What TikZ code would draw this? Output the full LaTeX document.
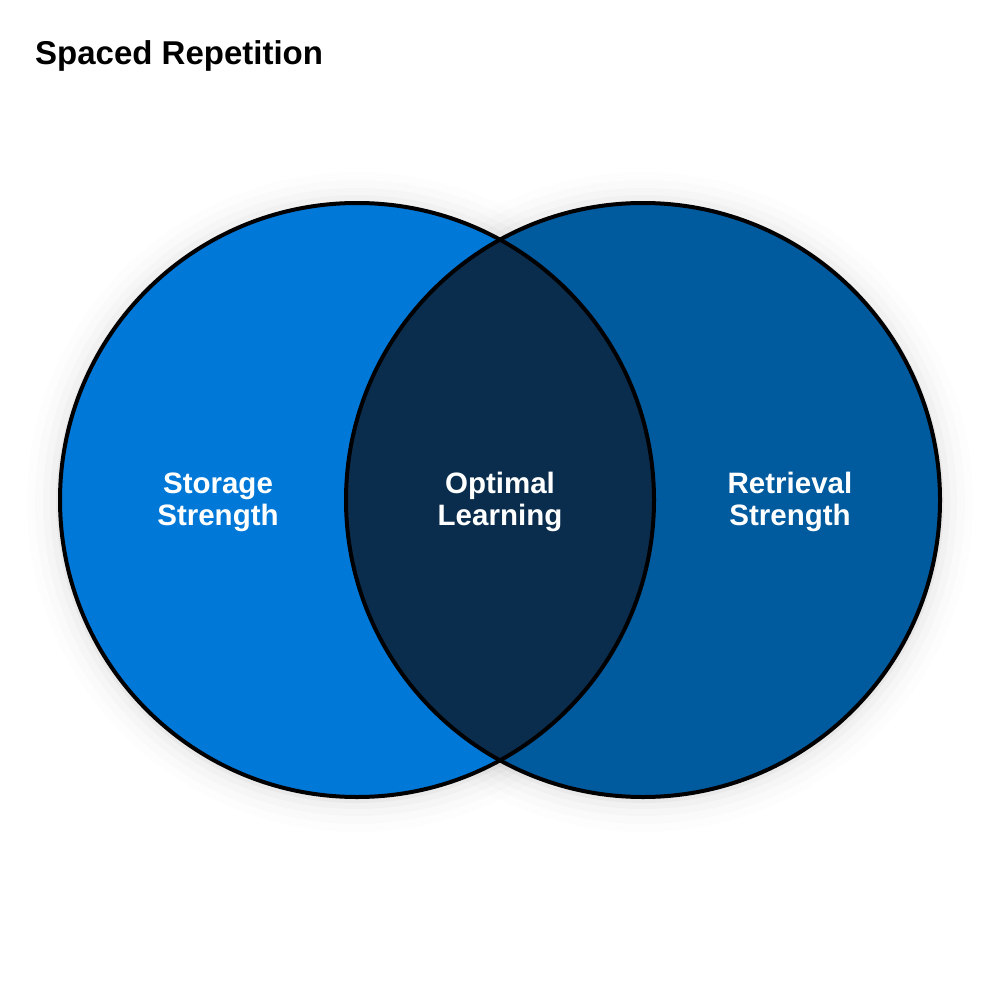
\documentclass[tikz,border=0pt]{standalone}
\usepackage{fontspec}
\setmainfont{Liberation Sans}
\definecolor{leftc}{HTML}{0078D7}
\definecolor{rightc}{HTML}{005A9E}
\definecolor{midc}{HTML}{0B2D4D}
\begin{document}
\begin{tikzpicture}[x=1pt,y=-1pt,
  lbl/.style={text=white,font=\bfseries\fontsize{29.5}{32}\selectfont,align=center},
  ring/.style={line width=4pt,draw=black}]
\useasboundingbox[fill=white] (0,0) rectangle (1000,1000);
% soft shadow
\foreach \r/\o in {330/0.008,322/0.012,314/0.016,307/0.02,301/0.03}{
  \fill[black,opacity=\o] (357,502) circle (\r);
  \fill[black,opacity=\o] (643,502) circle (\r);
}
\coordinate (cl) at (357,500);
\coordinate (cr) at (643,500);
\fill[leftc] (cl) circle (297);
\fill[rightc] (cr) circle (297);
\begin{scope}
  \clip (cl) circle (297);
  \fill[midc] (cr) circle (297);
\end{scope}
\draw[ring] (cl) circle (297);
\draw[ring] (cr) circle (297);
\node[anchor=base west,inner sep=0pt,font=\bfseries\fontsize{33}{38}\selectfont] (title) at (35,65) {Spaced Repetition};
\node[lbl] (storage) at (218,502) {Storage\\Strength};
\node[lbl] (optimal) at (500,502) {Optimal\\Learning};
\node[lbl] (retrieval) at (790,502) {Retrieval\\Strength};
\end{tikzpicture}
\end{document}
